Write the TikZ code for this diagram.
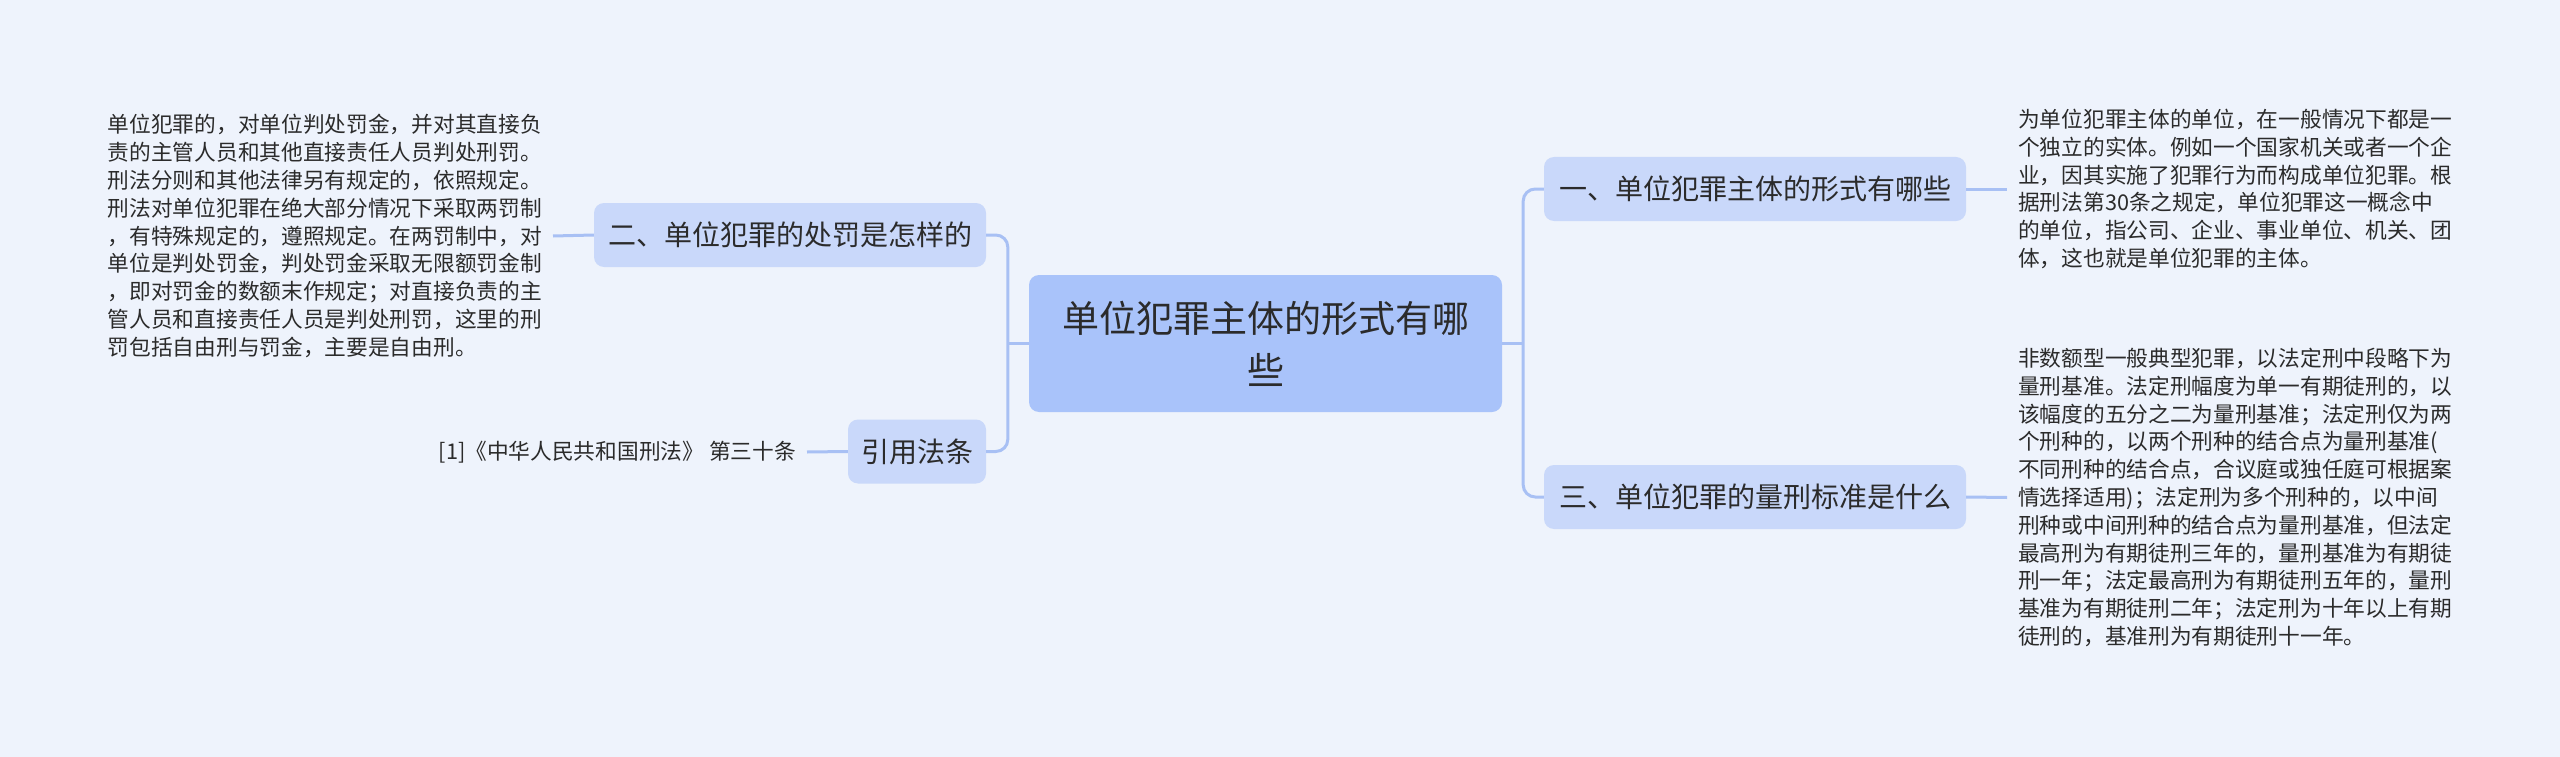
\documentclass[tikz,border=0pt]{standalone}
\usepackage{fontspec}
\setmainfont{Noto Sans CJK SC}
\definecolor{bg}{HTML}{EEF3FC}
\definecolor{rootc}{HTML}{A9C3FA}
\definecolor{brc}{HTML}{C9D8FA}
\definecolor{linec}{HTML}{A8C0F4}
\definecolor{txt}{HTML}{2B2B2B}
\begin{document}
\begin{tikzpicture}[x=1pt,y=-1pt,
  root/.style={fill=rootc, rounded corners=10pt, minimum width=473pt, minimum height=137pt, inner sep=0pt, align=center, text=txt, font=\fontsize{37}{52}\selectfont},
  branch/.style={fill=brc, rounded corners=10pt, minimum height=64pt, inner sep=0pt, text=txt, font=\fontsize{28}{34}\selectfont},
  leaf/.style={inner xsep=11pt, inner ysep=0pt, align=left, text=txt, font=\fontsize{21.7}{27.8}\selectfont},
  link/.style={draw=linec, line width=3pt},
  elbow/.style={link, rounded corners=12pt}]
\useasboundingbox[fill=bg] (0,0) rectangle (2560,757);

\node[root] (c) at (1265.5,343.5) {单位犯罪主体的形式有哪\\些};
\node[branch, minimum width=422pt] (n1) at (1755,189) {一、单位犯罪主体的形式有哪些};
\node[branch, minimum width=422pt] (n3) at (1755,497) {三、单位犯罪的量刑标准是什么};
\node[branch, minimum width=392pt] (n2) at (790,235) {二、单位犯罪的处罚是怎样的};
\node[branch, minimum width=138pt] (n4) at (917,451.5) {引用法条};

\node[leaf, anchor=west] (t1) at (2007,189) {为单位犯罪主体的单位，在一般情况下都是一\\个独立的实体。例如一个国家机关或者一个企\\业，因其实施了犯罪行为而构成单位犯罪。根\\据刑法第30条之规定，单位犯罪这一概念中\\的单位，指公司、企业、事业单位、机关、团\\体，这也就是单位犯罪的主体。};
\node[leaf, anchor=west] (t3) at (2007,497.5) {非数额型一般典型犯罪，以法定刑中段略下为\\量刑基准。法定刑幅度为单一有期徒刑的，以\\该幅度的五分之二为量刑基准；法定刑仅为两\\个刑种的，以两个刑种的结合点为量刑基准(\\不同刑种的结合点，合议庭或独任庭可根据案\\情选择适用)；法定刑为多个刑种的，以中间\\刑种或中间刑种的结合点为量刑基准，但法定\\最高刑为有期徒刑三年的，量刑基准为有期徒\\刑一年；法定最高刑为有期徒刑五年的，量刑\\基准为有期徒刑二年；法定刑为十年以上有期\\徒刑的，基准刑为有期徒刑十一年。};
\node[leaf, anchor=east] (t2) at (553,236) {单位犯罪的，对单位判处罚金，并对其直接负\\责的主管人员和其他直接责任人员判处刑罚。\\刑法分则和其他法律另有规定的，依照规定。\\刑法对单位犯罪在绝大部分情况下采取两罚制\\，有特殊规定的，遵照规定。在两罚制中，对\\单位是判处罚金，判处罚金采取无限额罚金制\\，即对罚金的数额末作规定；对直接负责的主\\管人员和直接责任人员是判处刑罚，这里的刑\\罚包括自由刑与罚金，主要是自由刑。};
\node[leaf, anchor=east] (t4) at (807,452) {[1]《中华人民共和国刑法》 第三十条};

\coordinate (jl) at ([xshift=-21pt]c.west);
\coordinate (jr) at ([xshift=21pt]c.east);
\draw[link] (c.west) -- (jl);
\draw[link] (c.east) -- (jr);
\draw[elbow] (n2.east) -| (jl) |- (n4.east);
\draw[elbow] (n1.west) -| (jr) |- (n3.west);
\draw[link] (n1.east) -- (t1.west);
\draw[link] (n3.east) -- (t3.west);
\draw[link] (n2.west) -- (t2.east);
\draw[link] (n4.west) -- (t4.east);
\end{tikzpicture}
\end{document}
